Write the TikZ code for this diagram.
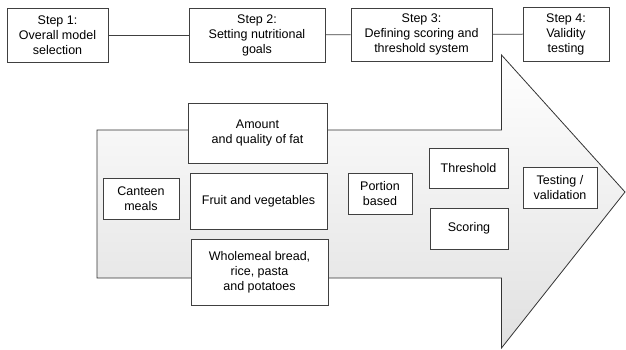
\documentclass[tikz,border=0pt]{standalone}
\usepackage{fontspec}
\setmainfont{Liberation Sans}
\tikzset{
    stepbox/.style={draw=black!75,line width=0.8pt,rectangle,fill=white,anchor=center,align=center,inner sep=0pt,font=\fontsize{12.5}{15}\selectfont},
    link/.style={draw=black!75,line width=0.8pt}
}
\begin{document}
\begin{tikzpicture}[x=1pt,y=-1pt]
        \useasboundingbox (0,0) rectangle (626,350);
        % the big arrow
        \draw[black!80,line width=0.8pt,top color=white,bottom color=black!12]
            (97,130) -- (501.5,130) -- (501.5,55) -- (625,192) -- (501.5,348) -- (501.5,278) -- (97,278) -- cycle;
        % steps
        \node[stepbox,minimum width=101pt,minimum height=54pt] (step1) at (57.5,35) {Step 1:\\Overall model\\selection};
        \node[stepbox,minimum width=136pt,minimum height=54pt] (step2) at (257,35) {Step 2:\\Setting nutritional\\goals};
        \node[stepbox,minimum width=141pt,minimum height=53pt] (step3) at (421.5,34.5) {Step 3:\\Defining scoring and\\threshold system};
        \node[stepbox,minimum width=86pt,minimum height=54pt] (step4) at (566,34) {Step 4:\\Validity\\testing};
        \draw[link] (step1) -- (step2);
        \draw[link] (step2) -- (step3);
        \draw[link] (step3) -- (step4);
        % inside the arrow
        \node[stepbox,minimum width=76pt,minimum height=41pt] (canteen) at (141,198.5) {Canteen\\meals};
        \node[stepbox,minimum width=139pt,minimum height=60pt] (fat) at (257.5,133) {Amount\\and quality of fat};
        \node[stepbox,minimum width=137pt,minimum height=56pt] (fruit) at (258.5,201) {Fruit and vegetables};
        \node[stepbox,minimum width=137pt,minimum height=66pt] (bread) at (259.5,272) {Wholemeal bread,\\rice, pasta\\and potatoes};
        \node[stepbox,minimum width=64pt,minimum height=41pt] (portion) at (380,193.5) {Portion\\based};
        \node[stepbox,minimum width=79pt,minimum height=40pt] (threshold) at (468.5,168) {Threshold};
        \node[stepbox,minimum width=78pt,minimum height=41pt] (scoring) at (469,228.5) {Scoring};
        \node[stepbox,minimum width=74pt,minimum height=41pt] (testing) at (560,187.5) {Testing /\\validation};
    \end{tikzpicture}
\end{document}
